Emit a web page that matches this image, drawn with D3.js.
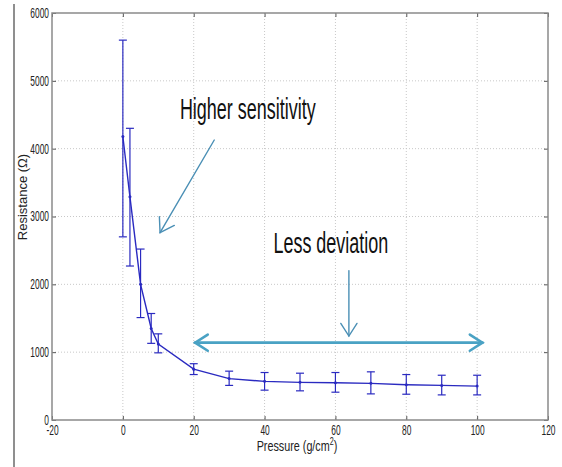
<!DOCTYPE html>
<html>
<head>
<meta charset="utf-8">
<script src="https://cdn.jsdelivr.net/npm/d3@7"></script>
<style>
  body { margin: 0; background: #fff; }
  svg text { font-family: "Liberation Sans", Arial, sans-serif; fill: #222; }
  .grid line { stroke: #c8c8c8; stroke-dasharray: 1,2; }
  .axis path { display: none; }
  .axis line { stroke: #555; }
</style>
</head>
<body>
<div id="chart"></div>
<script>
// values
var pressure   = [0, 2, 5, 8, 10, 20, 30, 40, 50, 60, 70, 80, 90, 100];
var resistance = [4180, 3290, 2000, 1350, 1120, 750, 610, 570, 555, 550, 540, 520, 510, 500];
var errUpper   = [5600, 4300, 2520, 1570, 1270, 830, 720, 700, 690, 700, 710, 670, 660, 660];
var errLower   = [2700, 2270, 1510, 1130, 990, 670, 510, 440, 430, 410, 385, 380, 370, 370];
var xTicks = [-20, 0, 20, 40, 60, 80, 100, 120];
var yTicks = [0, 1000, 2000, 3000, 4000, 5000, 6000];

(function errorchart() {
  var W = 562, H = 467;
  var left = 52, right = 548, top = 13, bottom = 420;
  var sx = 0.6; // the picture is squeezed sideways, so is the text

  var x = d3.scaleLinear().domain([-20, 120]).range([left, right]);
  var y = d3.scaleLinear().domain([0, 6000]).range([bottom, top]);
  var plain = function(d) { return String(d); };

  var svg = d3.select("#chart").append("svg")
    .attr("width", W)
    .attr("height", H);

  svg.append("rect").attr("width", W).attr("height", H).attr("fill", "#fff");

  // grey edge on the left of the picture
  svg.append("line")
    .attr("x1", 14).attr("x2", 14).attr("y1", 4).attr("y2", H)
    .attr("stroke", "#8f8f8f").attr("stroke-width", 2);

  // dotted grid
  var grid = svg.append("g").attr("class", "grid");
  grid.selectAll(".gx")
    .data(xTicks.slice(1, -1)).enter()
    .append("line")
    .attr("x1", function(d) { return x(d); })
    .attr("x2", function(d) { return x(d); })
    .attr("y1", top).attr("y2", bottom);
  grid.selectAll(".gy")
    .data(yTicks.slice(1, -1)).enter()
    .append("line")
    .attr("y1", function(d) { return y(d); })
    .attr("y2", function(d) { return y(d); })
    .attr("x1", left).attr("x2", right);

  // axes, matlab style ticks pointing inward
  var xa = svg.append("g")
    .attr("class", "axis")
    .attr("transform", "translate(0," + bottom + ")")
    .call(d3.axisBottom(x).tickValues(xTicks).tickFormat(plain).tickSize(-4).tickPadding(5));
  xa.selectAll("text")
    .style("font-size", "14px")
    .attr("transform", "scale(" + sx + ",1)");

  var ya = svg.append("g")
    .attr("class", "axis")
    .attr("transform", "translate(" + left + ",0)")
    .call(d3.axisLeft(y).tickValues(yTicks).tickFormat(plain).tickSize(-4).tickPadding(3));
  ya.selectAll("text")
    .style("font-size", "14px")
    .attr("x", -3 / sx)
    .attr("transform", "scale(" + sx + ",1)");

  svg.append("g")
    .attr("class", "axis")
    .attr("transform", "translate(0," + top + ")")
    .call(d3.axisTop(x).tickValues(xTicks).tickSize(-4).tickFormat(""));
  svg.append("g")
    .attr("class", "axis")
    .attr("transform", "translate(" + right + ",0)")
    .call(d3.axisRight(y).tickValues(yTicks).tickSize(-4).tickFormat(""));

  // box
  svg.append("rect")
    .attr("x", left).attr("y", top)
    .attr("width", right - left).attr("height", bottom - top)
    .attr("fill", "none")
    .attr("stroke", "#8a8a8a")
    .attr("stroke-width", 1.5);

  // data
  var pts = pressure.map(function(p, i) {
    return { p: p, r: resistance[i], hi: errUpper[i], lo: errLower[i] };
  });
  var blue = "#2a2ac0";

  var bars = svg.append("g")
    .attr("stroke", blue)
    .attr("stroke-width", 1.2)
    .selectAll("g")
    .data(pts).enter()
    .append("g");
  bars.append("line")
    .attr("x1", function(d) { return x(d.p); })
    .attr("x2", function(d) { return x(d.p); })
    .attr("y1", function(d) { return y(d.hi); })
    .attr("y2", function(d) { return y(d.lo); });
  bars.append("line")
    .attr("x1", function(d) { return x(d.p) - 4; })
    .attr("x2", function(d) { return x(d.p) + 4; })
    .attr("y1", function(d) { return y(d.hi); })
    .attr("y2", function(d) { return y(d.hi); });
  bars.append("line")
    .attr("x1", function(d) { return x(d.p) - 4; })
    .attr("x2", function(d) { return x(d.p) + 4; })
    .attr("y1", function(d) { return y(d.lo); })
    .attr("y2", function(d) { return y(d.lo); });

  var line = d3.line()
    .x(function(d) { return x(d.p); })
    .y(function(d) { return y(d.r); });
  svg.append("path")
    .datum(pts)
    .attr("d", line)
    .attr("fill", "none")
    .attr("stroke", blue)
    .attr("stroke-width", 1.4);

  svg.selectAll(".dot")
    .data(pts).enter()
    .append("circle")
    .attr("cx", function(d) { return x(d.p); })
    .attr("cy", function(d) { return y(d.r); })
    .attr("r", 1.5)
    .attr("fill", blue);

  // annotation arrows (given in data units)
  function arrow(x1, y1, x2, y2, both, color, w, len) {
    var g = svg.append("g")
      .attr("stroke", color)
      .attr("stroke-width", w)
      .attr("fill", "none")
      .attr("stroke-linecap", "round");
    var X1 = x(x1), Y1 = y(y1), X2 = x(x2), Y2 = y(y2);
    g.append("line").attr("x1", X1).attr("y1", Y1).attr("x2", X2).attr("y2", Y2);
    function head(tx, ty, fx, fy) {
      var a = Math.atan2(fy - ty, fx - tx), s = Math.PI / 5.5;
      g.append("path").attr("d",
        "M" + (tx + len * Math.cos(a - s)) + "," + (ty + len * Math.sin(a - s)) +
        "L" + tx + "," + ty +
        "L" + (tx + len * Math.cos(a + s)) + "," + (ty + len * Math.sin(a + s)));
    }
    head(X2, Y2, X1, Y1);
    if (both) head(X1, Y1, X2, Y2);
  }
  arrow(25.8, 4128, 10.5, 2761, false, "#4a8fb5", 1.4, 16);
  arrow(63.8, 2200, 63.8, 1238, false, "#4a8fb5", 1.4, 15);
  arrow(20.4, 1140, 101.5, 1140, true, "#4aa2c4", 2.6, 15);

  // annotation texts
  function note(tx, ty, str) {
    svg.append("text")
      .text(str)
      .style("font-size", "29px")
      .style("fill", "#111")
      .attr("transform", "translate(" + x(tx) + "," + y(ty) + ") scale(0.62,1)");
  }
  note(16.1, 4430, "Higher sensitivity");
  note(42.5, 2458, "Less deviation");

  // axis titles
  var xt = svg.append("text")
    .attr("text-anchor", "middle")
    .style("font-size", "15px")
    .attr("transform", "translate(297,451) scale(0.72,1)");
  xt.append("tspan").text("Pressure (g/cm");
  xt.append("tspan").text("2").attr("dy", -6).style("font-size", "10px");
  xt.append("tspan").text(")").attr("dy", 6);

  svg.append("text")
    .text("Resistance (Ω)")
    .attr("text-anchor", "middle")
    .style("font-size", "13px")
    .attr("transform", "translate(27,197) rotate(-90)");
})();
</script>
</body>
</html>
